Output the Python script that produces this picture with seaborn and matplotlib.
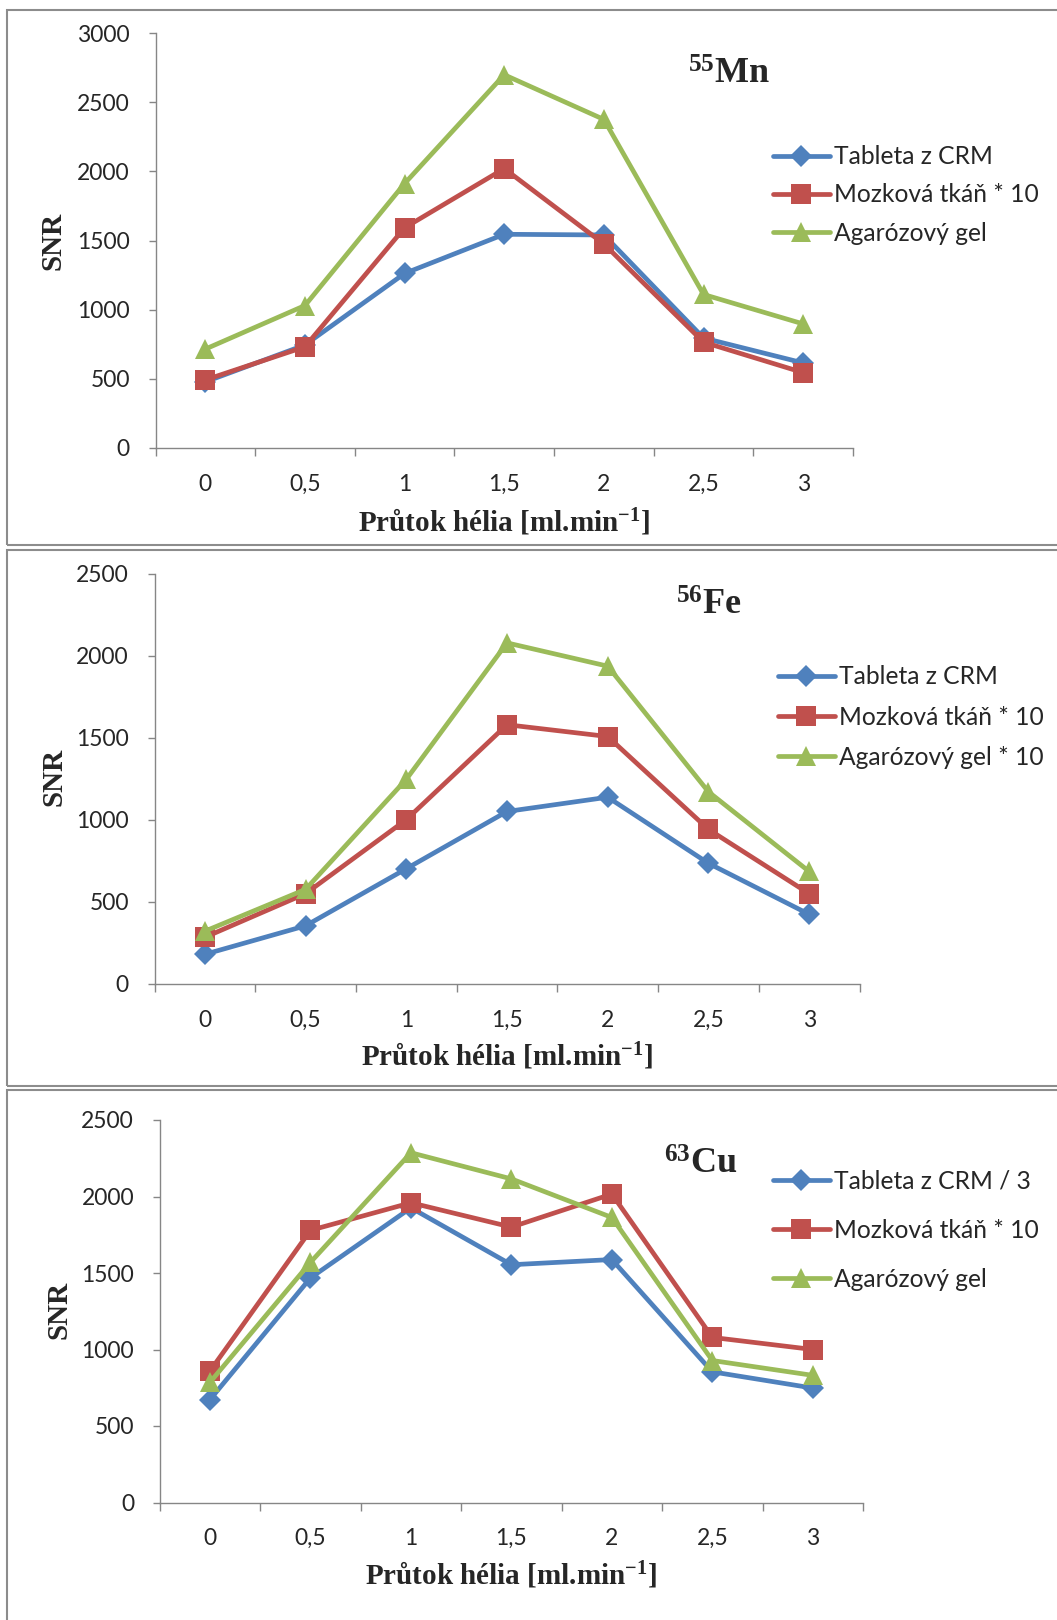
import numpy as np
import matplotlib
matplotlib.use("Agg")
import matplotlib.pyplot as plt
from matplotlib.patches import Rectangle
import seaborn as sns

# Helium flow rates (category labels on the x axis)
flow_labels = ["0", "0,5", "1", "1,5", "2", "2,5", "3"]

# 55Mn signal-to-noise ratios
mn_crm = [478, 745, 1262, 1545, 1540, 795, 615]
mn_brain = [492, 732, 1592, 2020, 1475, 765, 545]
mn_agarose = [715, 1030, 1912, 2698, 2375, 1110, 897]
mn_labels = ["Tableta z CRM", "Mozková tkáň * 10", "Agarózový gel"]

# 56Fe signal-to-noise ratios
fe_crm = [181, 355, 703, 1052, 1139, 736, 425]
fe_brain = [285, 551, 1002, 1581, 1509, 943, 551]
fe_agarose = [322, 577, 1248, 2080, 1938, 1172, 686]
fe_labels = ["Tableta z CRM", "Mozková tkáň * 10", "Agarózový gel * 10"]

# 63Cu signal-to-noise ratios
cu_crm = [673, 1468, 1926, 1554, 1588, 854, 748]
cu_brain = [860, 1779, 1959, 1800, 2016, 1079, 1000]
cu_agarose = [786, 1570, 2286, 2115, 1863, 928, 831]
cu_labels = ["Tableta z CRM / 3", "Mozková tkáň * 10", "Agarózový gel"]

sns.set_style("white")
plt.rcParams["font.family"] = ["Lato", "DejaVu Sans"]
plt.rcParams["mathtext.fontset"] = "custom"
plt.rcParams["mathtext.rm"] = "Liberation Serif"
plt.rcParams["mathtext.bf"] = "Liberation Serif:bold"
plt.rcParams["mathtext.it"] = "Liberation Serif:italic"

W, H = 1057, 1620
fig = plt.figure(figsize=(W / 100, H / 100), dpi=100)
fig.patch.set_facecolor("white")

COLORS = ["#4F81BD", "#C0504D", "#9BBB59"]
MARKERS = ["D", "s", "^"]
MSIZES = [11, 14, 14]
GRAY = "#868686"
TICK_FS = 16.5
LEG_FS = 17.7
SERIF = ["Liberation Serif", "DejaVu Serif"]


def fx(x):
    return x / W


def fy(y):
    return 1 - y / H


panels = [
    dict(series=[mn_crm, mn_brain, mn_agarose], labels=mn_labels, ymax=3000,
         box=(155.5, 853, 33, 448), frame=(6.5, 9.5, 545),
         title=r"$^{\mathbf{55}}$Mn", title_xy=(688, 84),
         leg_xy=(773, 195), leg_space=0.62,
         xlab_xy=(504, 531.5), ylab_xy=(53, 241)),
    dict(series=[fe_crm, fe_brain, fe_agarose], labels=fe_labels, ymax=2500,
         box=(154.5, 859.5, 574, 984), frame=(6.5, 550, 1086),
         title=r"$^{\mathbf{56}}$Fe", title_xy=(676, 615),
         leg_xy=(778, 717), leg_space=0.70,
         xlab_xy=(507.5, 1066), ylab_xy=(54, 777)),
    dict(series=[cu_crm, cu_brain, cu_agarose], labels=cu_labels, ymax=2500,
         box=(159.8, 863, 1120, 1502.5), frame=(6.5, 1090, 1640),
         title=r"$^{\mathbf{63}}$Cu", title_xy=(664, 1174),
         leg_xy=(773, 1230.5), leg_space=1.06,
         xlab_xy=(511.5, 1584.5), ylab_xy=(59, 1310)),
]

positions = np.arange(len(flow_labels))

for p in panels:
    # grey chart-area border
    fx0, fy0, fy1 = p["frame"]
    fig.patches.append(Rectangle((fx(fx0), fy(fy1)), fx(1080 - fx0), (fy1 - fy0) / H,
                                 transform=fig.transFigure, fill=False,
                                 edgecolor="#8c8c8c", linewidth=1.5, zorder=0))

    left, right, top, bottom = p["box"]
    ax = fig.add_axes([fx(left), fy(bottom), (right - left) / W, (bottom - top) / H])
    ax.set_facecolor("none")

    for vals, name, color, marker, ms in zip(p["series"], p["labels"], COLORS, MARKERS, MSIZES):
        sns.lineplot(x=positions, y=vals, ax=ax, color=color, marker=marker,
                     markersize=ms, markeredgewidth=0, markeredgecolor=color,
                     linewidth=3.4, label=name, clip_on=False)

    ax.set_xlim(-0.5, 6.5)
    ax.set_ylim(0, p["ymax"])
    ax.set_yticks(np.arange(0, p["ymax"] + 1, 500))
    ax.set_xticks(positions)
    ax.set_xticklabels(flow_labels)
    ax.set_xticks(np.arange(-0.5, 7, 1), minor=True)

    for side in ["top", "right"]:
        ax.spines[side].set_visible(False)
    for side in ["left", "bottom"]:
        ax.spines[side].set_color(GRAY)
        ax.spines[side].set_linewidth(1.0)

    ax.tick_params(axis="y", which="major", direction="out", length=5, width=1,
                   color=GRAY, labelsize=TICK_FS, pad=13.5, left=True)
    ax.tick_params(axis="x", which="major", length=0, labelsize=TICK_FS, pad=18.5,
                   bottom=True)
    ax.tick_params(axis="x", which="minor", direction="out", length=5.8, width=1,
                   color=GRAY, bottom=True)

    ax.set_xlabel(r"Průtok hélia [ml.min$^{\mathbf{-1}}$]", family=SERIF,
                  weight="bold", size=21, va="baseline", ha="center")
    ax.xaxis.set_label_coords(fx(p["xlab_xy"][0]), fy(p["xlab_xy"][1]),
                              transform=fig.transFigure)
    ax.set_ylabel("SNR", family=SERIF, weight="bold", size=21, va="center", ha="center")
    ax.yaxis.set_label_coords(fx(p["ylab_xy"][0]), fy(p["ylab_xy"][1]),
                              transform=fig.transFigure)

    fig.text(fx(p["title_xy"][0]), fy(p["title_xy"][1]), p["title"], family=SERIF,
             weight="bold", size=26, ha="left", va="baseline")

    handles, labels = ax.get_legend_handles_labels()
    ax.legend(handles, labels, loc="center left",
              bbox_to_anchor=(fx(p["leg_xy"][0]), fy(p["leg_xy"][1])),
              bbox_transform=fig.transFigure, frameon=False, borderpad=0,
              borderaxespad=0, handlelength=2.3, handletextpad=0.2,
              labelspacing=p["leg_space"], prop={"family": ["Lato", "DejaVu Sans"],
                                                 "size": LEG_FS})

fig.savefig("out.png", dpi=100, facecolor="white")
